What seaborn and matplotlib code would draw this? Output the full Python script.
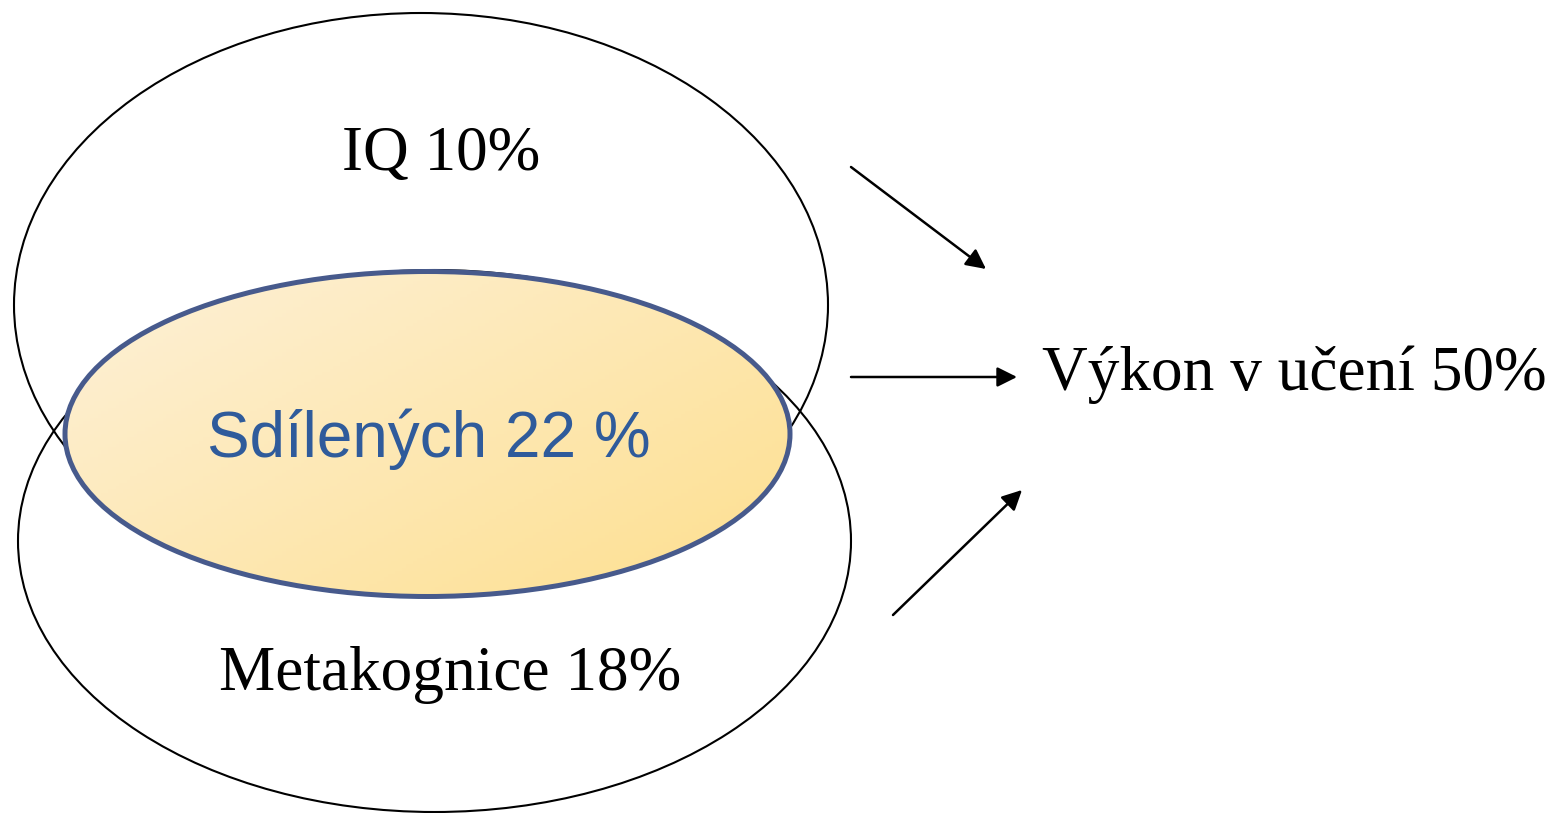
import numpy as np
import matplotlib
matplotlib.use("Agg")
import matplotlib.pyplot as plt
from matplotlib.patches import Ellipse, FancyArrowPatch
from matplotlib.colors import LinearSegmentedColormap
import seaborn as sns

# Data
factor_names = ["IQ", "Sdílených", "Metakognice"]
factor_pcts = [10, 22, 18]
outcome_name = "Výkon v učení"
outcome_pct = 50

sns.set_theme(style="white")
plt.rcParams['font.family'] = ['DejaVu Sans']

W, H = 1551, 813
fig = plt.figure(figsize=(W / 100, H / 100), dpi=100)
ax = fig.add_axes([0, 0, 1, 1])
ax.set_xlim(0, W)
ax.set_ylim(H, 0)
ax.axis("off")

# layout (pixel space)
iq_ell = Ellipse((421, 305), 814, 584, fill=False, ec="black", lw=1.5, zorder=2)
meta_ell = Ellipse((434.5, 541), 833, 542, fill=False, ec="black", lw=1.5, zorder=2)
ax.add_patch(iq_ell)
ax.add_patch(meta_ell)

# shared ellipse with gradient fill
shared = Ellipse((427.5, 434), 725, 325, fill=False, ec="#475a8c", lw=3.6, zorder=5)
ax.add_patch(shared)
cmap = LinearSegmentedColormap.from_list("grad", ["#fdf1d9", "#fddf8e"])
gx, gy = np.meshgrid(np.linspace(0, 1, 200), np.linspace(0, 1, 100))
grad = 0.55 * gx + 0.45 * gy
img = ax.imshow(grad, cmap=cmap, extent=(65, 790, 597, 271), origin="upper",
                aspect="auto", zorder=3)
img.set_clip_path(Ellipse((427.5, 434), 725, 325, transform=ax.transData))
ax.set_xlim(0, W)
ax.set_ylim(H, 0)

serif = ["Liberation Serif", "DejaVu Serif"]
sans = ["Liberation Sans", "DejaVu Sans"]

ax.text(441, 170, f"{factor_names[0]} {factor_pcts[0]}%", ha="center", va="baseline",
        fontsize=45.5, family=serif, color="black", zorder=6)
ax.text(429, 457, f"{factor_names[1]} {factor_pcts[1]} %", ha="center", va="baseline",
        fontsize=46, family=sans, color="#2f5b9b", zorder=6)
ax.text(450, 690, f"{factor_names[2]} {factor_pcts[2]}%", ha="center", va="baseline",
        fontsize=45.5, family=serif, color="black", zorder=6)
ax.text(1294, 390, f"{outcome_name} {outcome_pct}%", ha="center", va="baseline",
        fontsize=45.5, family=serif, color="black", zorder=6)

# arrows
arrows = [((851, 167), (986, 269)), ((851, 377), (1017, 377)), ((893, 615), (1022, 490))]
for start, end in arrows:
    ax.add_patch(FancyArrowPatch(start, end, arrowstyle="-|>,head_length=0.4,head_width=0.2",
                                 mutation_scale=30, lw=1.8, color="black",
                                 shrinkA=0, shrinkB=0, zorder=6))

fig.savefig("out.png", dpi=100)
